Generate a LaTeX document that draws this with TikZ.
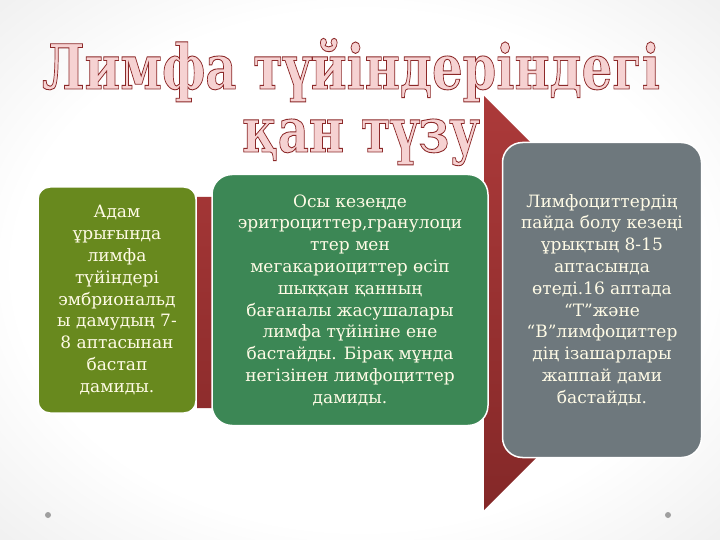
\documentclass[tikz,border=0pt]{standalone}
\usepackage{fontspec}
\setmainfont{DejaVu Serif}
\newfontfamily\titlefont{DejaVu Serif}
\usepackage{tikz}
\usetikzlibrary{positioning}
\definecolor{olivebox}{HTML}{68891E}
\definecolor{greenbox}{HTML}{3C8755}
\definecolor{graybox}{HTML}{6E787D}
\definecolor{arrowred}{HTML}{AC3A3A}
\definecolor{arrowdark}{HTML}{842828}
\definecolor{cream}{HTML}{FFFBE6}
\definecolor{titlefill}{HTML}{F6D2D2}
\pgfdeclareradialshading{paper}{\pgfpoint{0bp}{0bp}}{color(0bp)=(white);
  color(24bp)=(white); color(36bp)=(gray!12); color(50bp)=(gray!40)}
\tikzstyle{stage} = [draw=white, line width=1.5pt, rounded corners=20pt,
    text=cream, align=center, inner sep=0pt,
    font=\fontsize{17}{21.8}\selectfont]
\tikzstyle{headline} = [anchor=base, inner sep=0pt, xscale=0.775, transform shape,
    font=\titlefont\bfseries\fontsize{62}{62}\selectfont]
\newcommand{\outlined}[1]{\special{pdf:literal direct 2 Tr 0.9 w 0.55 0.16 0.16 RG}#1\special{pdf:literal direct 0 Tr}}

\begin{document}
\begin{tikzpicture}[x=1pt, y=-1pt]
  \shade[shading=paper] (0,0) rectangle (720,540);
  \useasboundingbox (0,0) rectangle (720,540);
  % arrow behind the stages
  \shade[top color=arrowred, bottom color=arrowdark] (197,197) -- (484,197) -- (484,96)
    -- (691,303) -- (484,510) -- (484,408) -- (197,408) -- cycle;
  \node [stage, fill=olivebox, minimum width=158pt, minimum height=226pt,
    rounded corners=12pt] (st1) at (117,300)
    {Адам\\ұрығында\\лимфа\\түйіндері\\эмбриональд\\ы дамудың 7-\\8 аптасынан\\бастап\\дамиды.};
  \node [stage, fill=greenbox, minimum width=276pt, minimum height=251pt,
    right of=st1, node distance=233pt] (st2)
    {Осы кезеңде\\эритроциттер,гранулоци\\ттер мен\\мегакариоциттер өсіп\\шыққан қанның\\бағаналы жасушалары\\лимфа түйініне ене\\бастайды. Бірақ мұнда\\негізінен лимфоциттер\\дамиды.};
  \node [stage, fill=graybox, minimum width=199pt, minimum height=315pt,
    right of=st2, node distance=252pt] (st3)
    {Лимфоциттердің\\пайда болу кезеңі\\ұрықтың 8-15\\аптасында\\өтеді.16 аптада\\“T”және\\“B”лимфоциттер\\дің ізашарлары\\жаппай дами\\бастайды.};
  % title
  \node [headline] (title1) at (351,89) {\color{titlefill}\outlined{Лимфа түйіндеріндегі}};
  \node [headline] (title2) at (361,152) {\color{titlefill}\outlined{қан түзу}};
  \fill [gray!75] (48,515) circle (3pt);
  \fill [gray!75] (668,515) circle (3pt);
\end{tikzpicture}
\end{document}
